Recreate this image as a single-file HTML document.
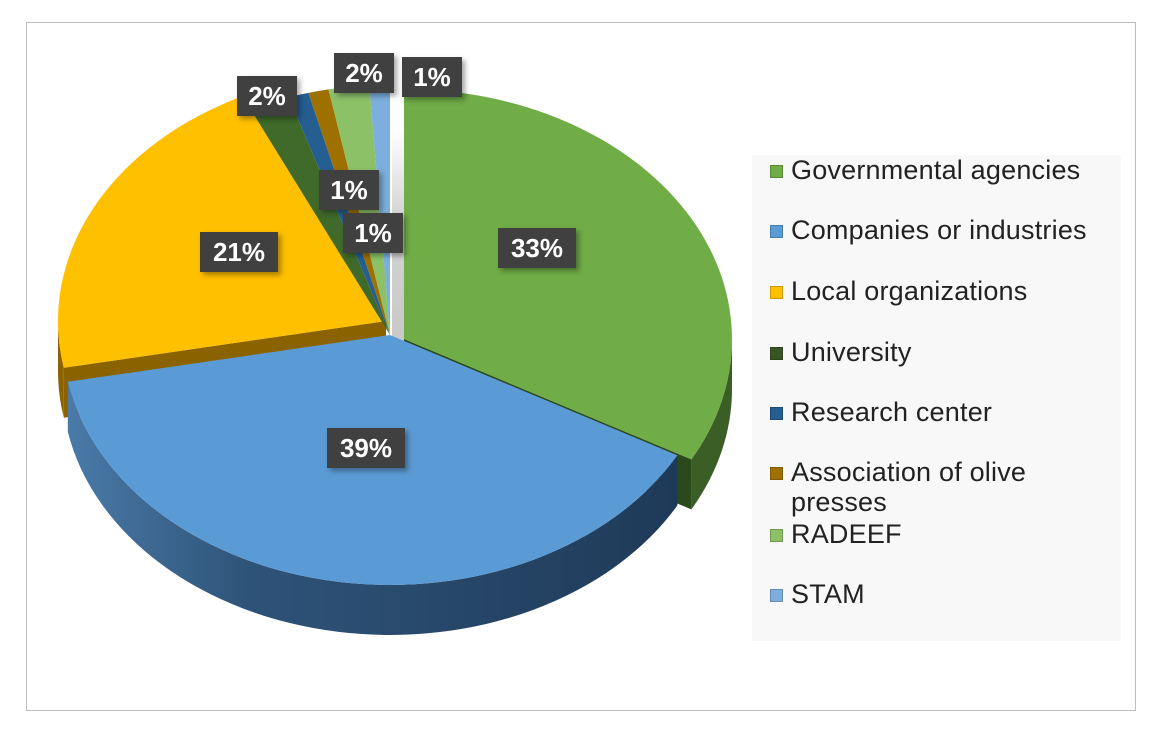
<!DOCTYPE html>
<html><head><meta charset="utf-8"><style>
body{margin:0;background:#fff;width:1164px;height:739px;overflow:hidden;font-family:"Liberation Sans",Arial,sans-serif}
#frame{position:absolute;left:26px;top:22px;width:1110px;height:689px;border:1px solid #bfbfbf;box-sizing:border-box}
#leg{position:absolute;left:752px;top:155px;width:369px;height:486px;background:#f8f8f8}
.li{position:absolute;left:0;font-size:27px;letter-spacing:0.2px;color:#222;white-space:nowrap;line-height:30px}
.li i{position:absolute;left:18px;top:10px;width:13px;height:13px;box-sizing:border-box;border:1px solid rgba(0,0,0,.2)}
.li span{position:absolute;left:39px;top:0}
.lb{position:absolute;background:#404040;color:#fff;font-weight:bold;font-size:26px;text-align:center;line-height:40px;height:40px;box-shadow:3px 3px 5px rgba(0,0,0,.35)}
</style></head><body>
<div id="frame"></div>
<svg id="s" width="1164" height="739" style="position:absolute;left:0;top:0"></svg>
<div id="leg">
<div class="li" style="top:0"><i style="background:#70ad47"></i><span>Governmental agencies</span></div>
<div class="li" style="top:60px"><i style="background:#5b9bd5"></i><span>Companies or industries</span></div>
<div class="li" style="top:121px"><i style="background:#ffc000"></i><span>Local organizations</span></div>
<div class="li" style="top:182px"><i style="background:#375623"></i><span>University</span></div>
<div class="li" style="top:242px"><i style="background:#255e91"></i><span>Research center</span></div>
<div class="li" style="top:302px"><i style="background:#9e7000"></i><span>Association of olive<br>presses</span></div>
<div class="li" style="top:364px"><i style="background:#8cc168"></i><span>RADEEF</span></div>
<div class="li" style="top:424px"><i style="background:#7cafdd"></i><span>STAM</span></div>
</div>
<div class="lb" style="left:498px;top:228px;width:78px">33%</div>
<div class="lb" style="left:327px;top:428px;width:78px">39%</div>
<div class="lb" style="left:200px;top:232px;width:78px">21%</div>
<div class="lb" style="left:237px;top:76px;width:60px">2%</div>
<div class="lb" style="left:334px;top:53px;width:60px">2%</div>
<div class="lb" style="left:402px;top:57px;width:60px">1%</div>
<div class="lb" style="left:319px;top:170px;width:60px">1%</div>
<div class="lb" style="left:343px;top:213px;width:60px">1%</div>
<script>
(function(){
var cx=390,cy=335,rx=328,ry=250,D=50,s=document.getElementById('s'),h='';
function P(t,ox,oy,dy){t=t*Math.PI/180;return [cx+ox+rx*Math.sin(t),cy+oy-ry*Math.cos(t)+(dy||0)];}
function f(p){return p[0].toFixed(1)+','+p[1].toFixed(1);}
function tp(a,b,ox,oy,c){var p=P(a,ox,oy),q=P(b,ox,oy);return '<path d="M'+f([cx+ox,cy+oy])+'L'+f(p)+'A'+rx+' '+ry+' 0 '+((b-a)>180?1:0)+' 1 '+f(q)+'Z" fill="'+c+'"/>';}
function side(a,b,ox,oy,c){var p=P(a,ox,oy),q=P(b,ox,oy),p2=P(a,ox,oy,D),q2=P(b,ox,oy,D);return '<path d="M'+f(p)+'A'+rx+' '+ry+' 0 0 1 '+f(q)+'L'+f(q2)+'A'+rx+' '+ry+' 0 0 0 '+f(p2)+'Z" fill="'+c+'"/>';}
function rad(t,ox,oy,d,c){var p=P(t,ox,oy);return '<path d="M'+f([cx+ox,cy+oy])+'L'+f(p)+'L'+f([p[0],p[1]+d])+'L'+f([cx+ox,cy+oy+d])+'Z" fill="'+c+'"/>';}
var gx=14,gy=4,yx=-4,yy=-14;
h+='<defs><linearGradient id="bg" x1="0" x2="1"><stop offset="0" stop-color="#4a7aa8"/><stop offset=".3" stop-color="#2e5378"/><stop offset="1" stop-color="#1f3a58"/></linearGradient>';
h+='<linearGradient id="gw" x1="0" y1="0" x2="0" y2="1"><stop offset="0" stop-color="#ffffff"/><stop offset=".4" stop-color="#d4d4d4"/><stop offset="1" stop-color="#c8c8c8"/></linearGradient></defs>';
h+='<rect x="'+(cx+2)+'" y="130" width="'+(gx)+'" height="215" fill="url(#gw)"/>';
h+=rad(259.2,yx,yy,50,'#8a6300');
h+=rad(118.8,gx,gy,D,'#2b4a1b');
h+=side(90,118.8,gx,gy,'#3a5e25');
h+=side(118.8,259.2,0,0,'url(#bg)');
h+=side(259.2,270,yx,yy,'#8a6300');
h+=tp(118.8,259.2,0,0,'#5b9bd5');
h+=tp(259.2,334.8,yx,yy,'#ffc000');
h+=tp(334.8,342,0,0,'#3f6a2a');
h+=tp(342,345.6,0,0,'#255e91');
h+=tp(345.6,349.2,0,0,'#9e7000');
h+=tp(349.2,356.4,0,0,'#8cc168');
h+=tp(356.4,360,0,0,'#7cafdd');
h+=tp(0,118.8,gx,gy,'#70ad47');
s.innerHTML=h;
})();
</script>
</body></html>
